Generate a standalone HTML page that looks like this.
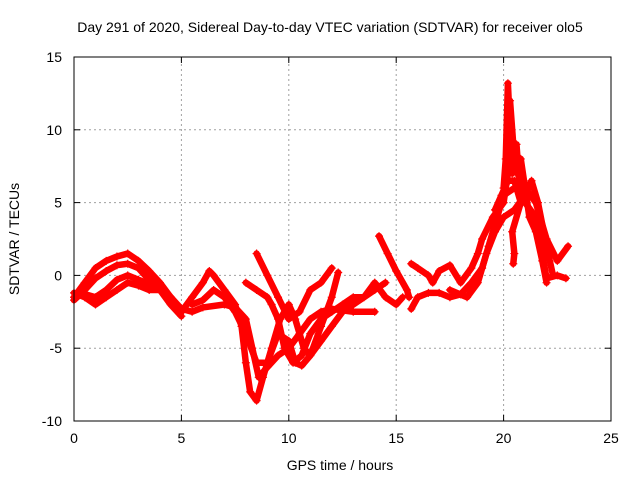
<!DOCTYPE html>
<html><head><meta charset="utf-8"><style>
body{margin:0;background:#fff}
svg{display:block;font-family:"Liberation Sans",sans-serif;font-size:14px}
</style></head><body>
<svg id="chart" width="640" height="480" viewBox="0 0 640 480">
<rect x="0" y="0" width="640" height="480" fill="#fff"/>
<text x="330" y="32" text-anchor="middle" font-size="14">Day 291 of 2020, Sidereal Day-to-day VTEC variation (SDTVAR) for receiver olo5</text>
<text x="340" y="470" text-anchor="middle">GPS time / hours</text>
<text transform="translate(19,239) rotate(-90)" text-anchor="middle">SDTVAR / TECUs</text>
<g id="grid"></g>
<g id="marks"></g>
<rect x="74" y="57" width="537" height="364" fill="none" stroke="#000" stroke-width="1"/>
<g id="ticks"></g>
</svg>
<script>
const xTicks=[0,5,10,15,20,25];
const yTicks=[-10,-5,0,5,10,15];
const trackA=[[0,-1.5],[0.5,-0.5],[1,0.5],[1.5,1],[2,1.3],[2.5,1.5],[3,1],[3.5,0.3],[4,-0.5],[4.5,-1.5],[5,-2.5]];
const trackB=[[0,-1.7],[0.5,-1],[1,-0.2],[1.5,0.3],[2,0.7],[2.5,0.8],[3,0.5],[3.5,-0.3],[4,-1],[4.5,-2],[5,-2.8]];
const trackC=[[0,-1.2],[0.5,-1.5],[1,-2],[1.5,-1.5],[2,-1],[2.5,-0.5],[3,-0.7],[3.5,-1],[4,-1],[4.5,-1.5],[5,-2.5]];
const trackD=[[0.3,-1.2],[1,-1.5],[1.5,-1],[2,-0.3],[2.5,0],[3,-0.3],[3.5,-0.6],[4.2,-1],[5,-2.3],[5.5,-2.5],[6,-2.2],[7,-2],[7.5,-2.2],[8,-3],[8.3,-5],[8.6,-7],[9,-6.3],[9.5,-5.5],[10,-5],[10.5,-4],[11,-3],[11.5,-2.5],[12,-2.3],[13,-2.5],[14,-2.5]];
const trackE=[[5,-2.5],[5.5,-1.5],[6,-0.5],[6.3,0.3],[6.5,0],[7,-1],[7.5,-2],[7.8,-3.5],[8,-6],[8.2,-8],[8.5,-8.6],[8.8,-7],[9.2,-5],[9.6,-3],[10,-2],[10.3,-3],[10.7,-5],[11,-5.5],[11.5,-4.5],[12,-3.5],[12.5,-2.5],[13,-2],[14,-1],[14.5,-0.5]];
const trackF=[[5.5,-2],[6,-1.7],[6.5,-1],[7,-1.5],[7.5,-2.5],[8,-4],[8.5,-6],[9,-6],[9.5,-4],[10,-4.5],[10.3,-6],[10.6,-6.2],[11,-5.5],[11.5,-3.5],[12,-1.5],[12.3,0.2]];
const trackG=[[8.5,1.5],[9,0],[9.5,-1.5],[10,-3],[10.5,-2.5],[11,-1],[11.5,-0.5],[12,0.5]];
const trackH=[[8,-0.5],[8.5,-1],[9,-1.5],[9.2,-2],[9.5,-3],[9.8,-5],[10.2,-6],[10.6,-5.5],[11,-4],[11.5,-3],[12,-2.5],[12.5,-2],[13,-1.5],[13.5,-1.5],[14,-0.5],[14.5,-1.5],[15,-2],[15.3,-1.5]];
const trackI=[[14.2,2.7],[14.6,1.5],[15,0.3],[15.5,-1],[15.6,-1.5]];
const trackJ=[[15.7,0.8],[16,0.5],[16.5,0],[16.7,-0.5],[17,0.3],[17.5,0.7],[18,-0.5],[18.5,0.5],[18.8,1.5],[19,2.5],[19.5,4],[20,5],[20.2,7],[20.3,12],[20.5,8],[21,5],[21.5,4],[22,-0.2],[22.5,0],[22.9,-0.2]];
const trackK=[[15.7,-2.3],[16,-1.5],[16.5,-1.2],[17,-1.2],[17.5,-1.5],[18,-1.3],[18.5,-0.5],[19,0.5],[19.3,2],[19.7,4],[20,5.5],[20.5,6],[21,6],[21.5,5],[22,2.5],[22.5,1],[23,2]];
const trackL=[[17.5,-1],[18.3,-1.5],[18.8,-0.5],[19.2,1.5],[19.6,3],[20,4],[20.5,4.5],[21,5.5],[21.3,6.5],[21.6,5],[22,2],[22.3,0]];
const trackM=[[20,6],[20.1,8],[20.2,13.2],[20.3,10],[20.4,7],[20.5,8.5],[20.6,9],[20.7,7],[20.8,8],[21,6],[21.2,4],[21.5,3],[21.8,1],[22,-0.5]];
const trackN=[[19.6,4.5],[19.9,5.5],[20.2,6.5],[20.5,6.5],[20.8,5],[20.4,3],[20.5,1.5],[20.45,0.8]];
const tracks=[trackA,trackB,trackC,trackD,trackE,trackF,trackG,trackH,trackI,trackJ,trackK,trackL,trackM,trackN];
const X0=74,X1=611,Y0=421,Y1=57;
function sx(v){return X0+(v-0)/(25-0)*(X1-X0);}
function sy(v){return Y0-(v+10)/(25)*(Y0-Y1);}
const NS='http://www.w3.org/2000/svg';
const grid=document.getElementById('grid'),ticks=document.getElementById('ticks'),marks=document.getElementById('marks');
function mk(t,a,p){const e=document.createElementNS(NS,t);for(const k in a)e.setAttribute(k,a[k]);p.appendChild(e);return e;}
xTicks.forEach(v=>{const x=sx(v);
 if(v>0&&v<25){const g=mk('line',{x1:x,y1:Y0,x2:x,y2:Y1,stroke:'#a0a0a0','stroke-dasharray':'2,3'},grid);
 
 }
 mk('line',{x1:x,y1:Y0,x2:x,y2:Y0-6,stroke:'#000'},ticks);mk('line',{x1:x,y1:Y1,x2:x,y2:Y1+6,stroke:'#000'},ticks);
 const t=mk('text',{x:x,y:Y0+22,'text-anchor':'middle'},ticks);t.textContent=v;
 
 });
yTicks.forEach(v=>{const y=sy(v);
 if(v>-10&&v<15){const g=mk('line',{x1:X0,y1:y,x2:X1,y2:y,stroke:'#a0a0a0','stroke-dasharray':'2,3'},grid);
 
 }
 mk('line',{x1:X0,y1:y,x2:X0+6,y2:y,stroke:'#000'},ticks);mk('line',{x1:X1,y1:y,x2:X1-6,y2:y,stroke:'#000'},ticks);
 const t=mk('text',{x:X0-12,y:y+5,'text-anchor':'end'},ticks);t.textContent=v;
 
 });
tracks.forEach((tr,i)=>{
 const pl=mk('polyline',{points:tr.map(p=>sx(p[0])+','+sy(p[1])).join(' '),fill:'none',stroke:'#f00','stroke-width':6.5,'stroke-linejoin':'round','stroke-linecap':'round'},marks);
 
 
 tr.forEach(p=>{const x=sx(p[0]),y=sy(p[1]);
  const m=mk('path',{d:`M${x-4},${y}H${x+4}M${x},${y-4}V${y+4}`,stroke:'#f00','stroke-width':1.2},marks);
  
  });
});
</script>
</body></html>
